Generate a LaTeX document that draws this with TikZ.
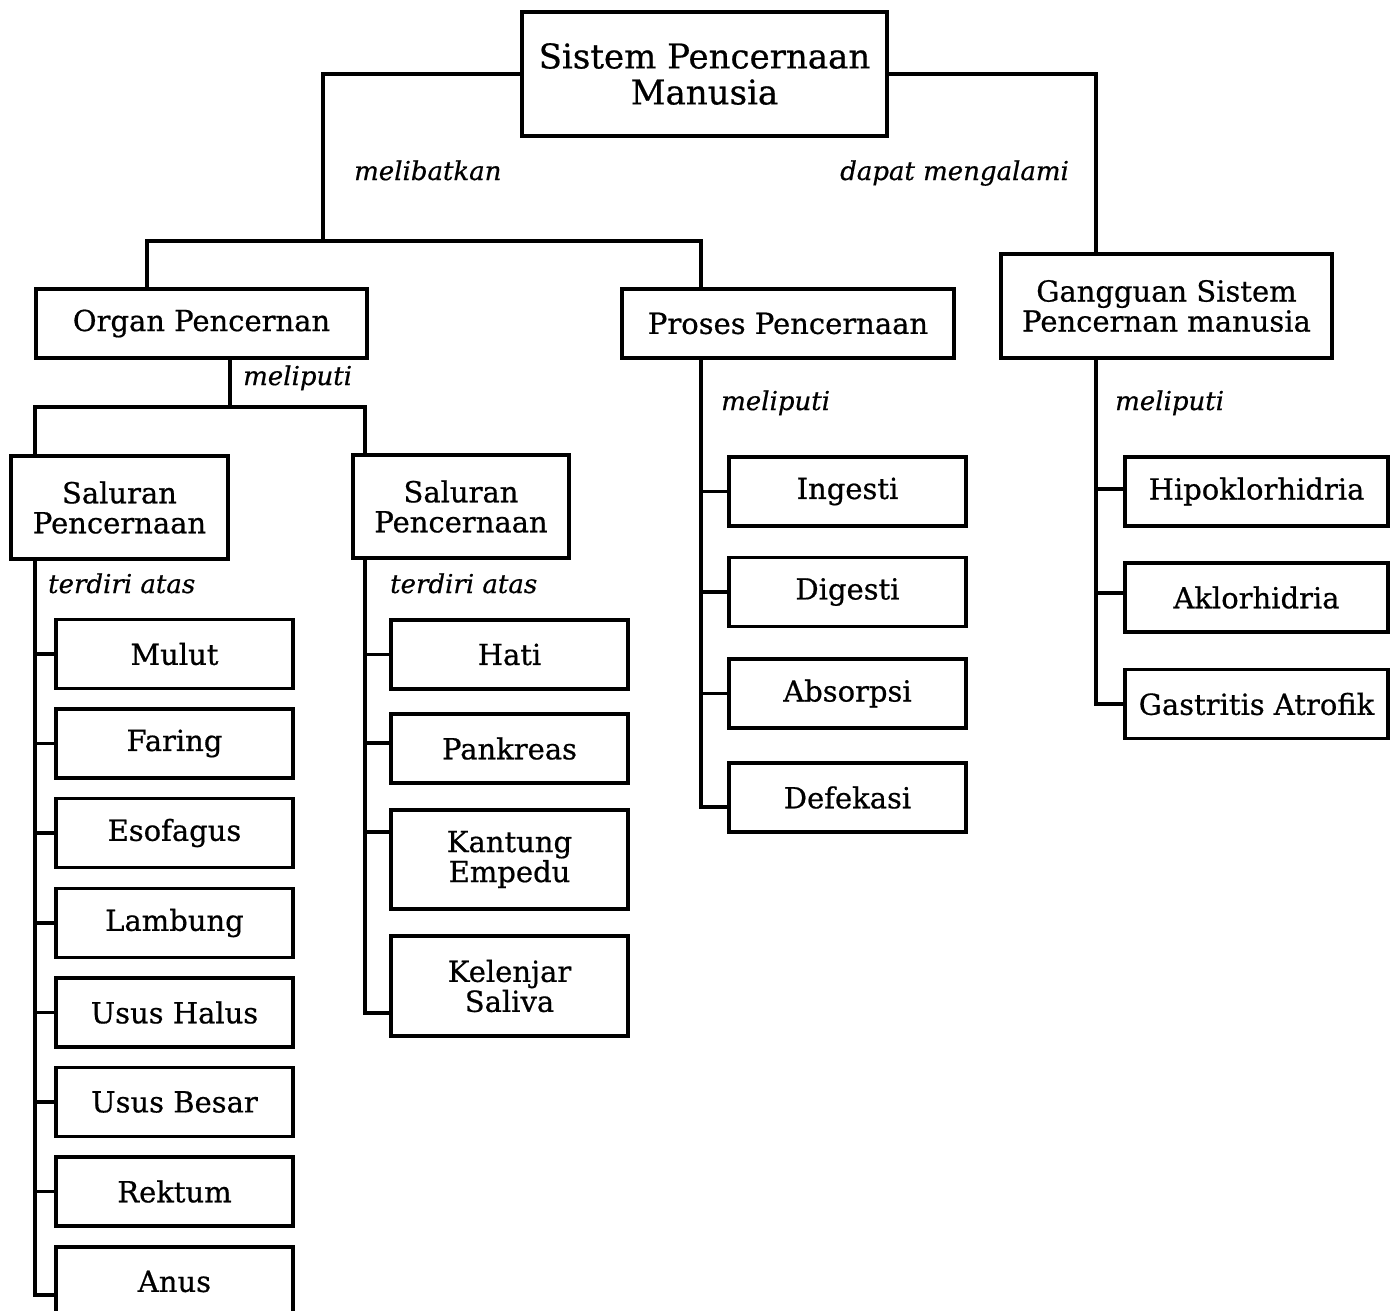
\documentclass[tikz,border=0pt]{standalone}
\usepackage{fontspec}
\setmainfont{DejaVu Serif}[FakeBold=0.6]
\usetikzlibrary{calc}
\begin{document}
\begin{tikzpicture}[x=1pt,y=-1pt,
  box/.style={draw=black, line width=3.6pt, fill=white, inner sep=0pt, align=center,
    font=\fontsize{29}{30}\selectfont, minimum height=69pt},
  leaf/.style={box, minimum width=237pt},
  topbox/.style={box, font=\fontsize{34}{36}\selectfont},
  lbl/.style={anchor=base west, inner sep=0pt, font=\itshape\fontsize{26}{28}\selectfont},
  conn/.style={line width=3.6pt, line join=miter}]
\fill[white] (0,0) rectangle (1394,1310);
\useasboundingbox (0,0) rectangle (1394,1310);

% main boxes
\node[topbox, minimum width=365pt, minimum height=124pt] (top) at (704.5,74) {Sistem Pencernaan\\Manusia};
\node[box, minimum width=331pt] (organ) at (201.5,323.5) {Organ Pencernan};
\node[box, minimum width=332pt] (proses) at (788,323.5) {Proses Pencernaan};
\node[box, minimum width=331pt, minimum height=104pt] (gangguan) at (1166.5,306) {Gangguan Sistem\\Pencernan manusia};
\node[box, minimum width=217pt, minimum height=103pt] (sal1) at (119.5,507.5) {Saluran\\Pencernaan};
\node[box, minimum width=216pt, minimum height=103pt] (sal2) at (461,506.5) {Saluran\\Pencernaan};

% left column
\node[leaf] (mulut) at (174.5,654) {Mulut};
\node[leaf] (faring) at (174.5,743.5) {Faring};
\node[leaf] (esofagus) at (174.5,833) {Esofagus};
\node[leaf] (lambung) at (174.5,923) {Lambung};
\node[leaf] (halus) at (174.5,1012.5) {Usus Halus};
\node[leaf] (besar) at (174.5,1102) {Usus Besar};
\node[leaf] (rektum) at (174.5,1191.5) {Rektum};
\node[leaf] (anus) at (174.5,1281.5) {Anus};

% middle column
\node[leaf] (hati) at (509.5,654.5) {Hati};
\node[leaf] (pankreas) at (509.5,748.5) {Pankreas};
\node[leaf, minimum height=99pt] (kantung) at (509.5,859.5) {Kantung\\Empedu};
\node[leaf, minimum height=100pt] (kelenjar) at (509.5,986) {Kelenjar\\Saliva};

% proses column
\node[leaf] (ingesti) at (847.5,491.5) {Ingesti};
\node[leaf] (digesti) at (847.5,592) {Digesti};
\node[leaf] (absorpsi) at (847.5,693.5) {Absorpsi};
\node[leaf] (defekasi) at (847.5,797.5) {Defekasi};

% gangguan column
\node[box, minimum width=263pt] (hipo) at (1256.5,491.5) {Hipoklorhidria};
\node[box, minimum width=263pt] (aklor) at (1256.5,597.5) {Aklorhidria};
\node[box, minimum width=263pt] (gastritis) at (1256.5,704) {Gastritis Atrofik};

% connectors top level
\coordinate (jL) at (323,241);
\draw[conn] (top.west) -| (jL);
\draw[conn] ([xshift=113pt]organ.north west) |- (jL) -| ([xshift=81pt]proses.north west);
\draw[conn] (top.east) -| ([xshift=97pt]gangguan.north west);

% organ split
\coordinate (jM) at (230,407);
\draw[conn] (organ.south -| jM) -- (jM);
\draw[conn] ([xshift=26pt]sal1.north west) |- (jM) -| ([xshift=14pt]sal2.north west);

% trunks
\coordinate (t1) at ([xshift=26pt]sal1.south west);
\coordinate (t2) at ([xshift=14pt]sal2.south west);
\coordinate (t3) at ([xshift=81pt]proses.south west);
\coordinate (t4) at ([xshift=97pt]gangguan.south west);

\draw[conn] (t1) |- ([yshift=-13.5pt]anus.west);
\foreach \n in {mulut,faring,esofagus,lambung,halus,besar,rektum}
  \draw[conn] (t1 |- \n.west) -- (\n.west);

\draw[conn] (t2) |- ([yshift=-27pt]kelenjar.west);
\draw[conn] (t2 |- hati.west) -- (hati.west);
\draw[conn] ([yshift=5.5pt]pankreas.west -| t2) -- ([yshift=5.5pt]pankreas.west);
\draw[conn] ([yshift=27.5pt]kantung.west -| t2) -- ([yshift=27.5pt]kantung.west);

\draw[conn] (t3) |- ([yshift=-9.5pt]defekasi.west);
\foreach \n in {ingesti,digesti,absorpsi}
  \draw[conn] (t3 |- \n.west) -- (\n.west);

\draw[conn] (t4) |- (gastritis.west);
\draw[conn] ([yshift=2.5pt]hipo.west -| t4) -- ([yshift=2.5pt]hipo.west);
\draw[conn] ([yshift=4.5pt]aklor.west -| t4) -- ([yshift=4.5pt]aklor.west);

% labels
\node[lbl] (l1) at (354,180) {melibatkan};
\node[lbl] (l2) at (840,180) {dapat mengalami};
\node[lbl] (l3) at (243,385) {meliputi};
\node[lbl] (l4) at (721,410) {meliputi};
\node[lbl] (l5) at (1115,410) {meliputi};
\node[lbl] (l6) at (48,593) {terdiri atas};
\node[lbl] (l7) at (390,593) {terdiri atas};
\end{tikzpicture}
\end{document}
